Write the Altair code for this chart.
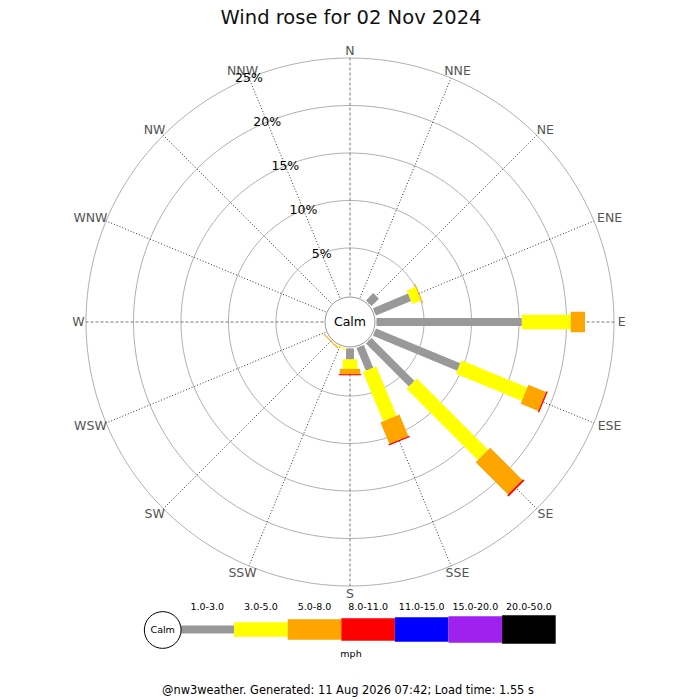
import altair as alt
import pandas as pd

# ---------------- data ----------------
directions = ["N", "NNE", "NE", "ENE", "E", "ESE", "SE", "SSE",
              "S", "SSW", "SW", "WSW", "W", "WNW", "NW", "NNW"]
speed_bins = ["1.0-3.0", "3.0-5.0", "5.0-8.0", "8.0-11.0",
              "11.0-15.0", "15.0-20.0", "20.0-50.0"]
bin_colors = ["#999999", "#ffff00", "#ffa500", "#ff0000",
              "#0000ff", "#a020f0", "#000000"]
bin_widths = [8, 14.5, 20.5, 22.5, 24.5, 26.5, 28.5]

# percentage of time per direction (N..NNW) for each speed bin (mph)
pct_1_3   = [0, 0, 1.1, 4.0, 15.3, 9.6, 6.4, 2.6, 1.15, 0, 0, 0, 0, 0, 0, 0]
pct_3_5   = [0, 0, 0, 1.0, 5.15, 7.5, 10.6, 5.6, 1.0, 0.1, 0, 0, 0, 0, 0, 0]
pct_5_8   = [0, 0, 0, 0.1, 1.5, 2.0, 4.8, 2.45, 0.55, 0, 0.1, 0, 0, 0, 0, 0]
pct_8_11  = [0, 0, 0, 0, 0, 0.15, 0.2, 0.15, 0.12, 0, 0, 0, 0, 0, 0, 0]
pct_11_15 = [0, 0, 0, 0, 0, 0, 0, 0, 0, 0, 0, 0, 0, 0, 0, 0]
pct_15_20 = [0, 0, 0, 0, 0, 0, 0, 0, 0, 0, 0, 0, 0, 0, 0, 0]
pct_20_50 = [0, 0, 0, 0, 0, 0, 0, 0, 0, 0, 0, 0, 0, 0, 0, 0]
series = [pct_1_3, pct_3_5, pct_5_8, pct_8_11, pct_11_15, pct_15_20, pct_20_50]

ring_pcts = [5, 10, 15, 20, 25]
ring_labels = ["5%", "10%", "15%", "20%", "25%"]

title_text = "Wind rose for 02 Nov 2024"
unit_text = "mph"
footer_text = "@nw3weather. Generated: 11 Aug 2026 07:42; Load time: 1.55 s"

# ---------------- geometry (layout only) ----------------
W, H = 684, 692          # drawing area
PXU = 9.5                # pixels per percent
CALM = 26.5 / PXU        # calm circle offset in percent units
CXP, CYP = 350, 322      # rose centre on the page


def dx(px):
    return (px - CXP) / PXU


def dy(py):
    return (CYP - py) / PXU


xs = alt.Scale(domain=[dx(8), dx(8 + W)], zero=False, nice=False)
ys = alt.Scale(domain=[dy(8 + H), dy(8)], zero=False, nice=False)
FONT = "DejaVu Sans"

rows = []
for j, b in enumerate(speed_bins):
    for i, d in enumerate(directions):
        rows.append({"dir": d, "angle": i * 22.5, "bin": b, "bidx": j, "pct": series[j][i]})
df = pd.DataFrame(rows)

dir_df = pd.DataFrame({"dir": directions, "idx": list(range(len(directions)))})
ring_df = pd.DataFrame({"ring": ring_pcts, "label": ring_labels})
leg_df = pd.DataFrame({"bin": speed_bins, "bidx": list(range(len(speed_bins)))})

color_enc = alt.Color("bin:N", scale=alt.Scale(domain=speed_bins, range=bin_colors), legend=None)
width_enc = alt.StrokeWidth("bin:N", scale=alt.Scale(type="ordinal", domain=speed_bins, range=bin_widths),
                            legend=None)

# rings
rings = alt.Chart(ring_df).transform_calculate(
    angs="sequence(0, 362, 2)"
).transform_flatten(["angs"], as_=["ang"]).transform_calculate(
    x=f"({CALM} + datum.ring) * sin(datum.ang * PI / 180)",
    y=f"({CALM} + datum.ring) * cos(datum.ang * PI / 180)",
).mark_line(color="#b0b0b0", strokeWidth=1).encode(
    x=alt.X("x:Q", scale=xs, axis=None),
    y=alt.Y("y:Q", scale=ys, axis=None),
    detail="ring:N",
    order="ang:Q",
)

# radial direction lines
spokes = alt.Chart(dir_df).transform_calculate(
    a="datum.idx * 22.5 * PI / 180",
    card="datum.idx % 4 == 0",
).transform_calculate(
    x0=f"{CALM} * sin(datum.a)", y0=f"{CALM} * cos(datum.a)",
    x1=f"({CALM} + 25) * sin(datum.a)", y1=f"({CALM} + 25) * cos(datum.a)",
).mark_rule(strokeWidth=1).encode(
    x=alt.X("x0:Q", scale=xs, axis=None),
    y=alt.Y("y0:Q", scale=ys, axis=None),
    x2="x1:Q", y2="y1:Q",
    color=alt.condition("datum.card", alt.value("#777777"), alt.value("#333333")),
    strokeDash=alt.condition("datum.card", alt.value([3, 2]), alt.value([1, 2])),
)

# direction labels
dir_labels = alt.Chart(dir_df).transform_calculate(
    a="datum.idx * 22.5 * PI / 180",
    w="length(datum.dir) * 9.3",
).transform_calculate(
    x=f"sin(datum.a) * (267 + datum.w / 2) / {PXU}",
    y=f"cos(datum.a) * (267 + 4.5) / {PXU}",
).mark_text(font=FONT, fontSize=12.5, color="#555555", baseline="middle", align="center").encode(
    x=alt.X("x:Q", scale=xs, axis=None),
    y=alt.Y("y:Q", scale=ys, axis=None),
    text="dir:N",
)

# percentage labels along the NNW spoke
pct_labels = alt.Chart(ring_df).transform_calculate(
    x=f"({CALM} + datum.ring) * sin(337.5 * PI / 180)",
    y=f"({CALM} + datum.ring) * cos(337.5 * PI / 180)",
).mark_text(font=FONT, fontSize=12.5, color="#000000", baseline="middle", align="center").encode(
    x=alt.X("x:Q", scale=xs, axis=None),
    y=alt.Y("y:Q", scale=ys, axis=None),
    text="label:N",
)

# stacked wind bars
bars = alt.Chart(df).transform_window(
    cum="sum(pct)", groupby=["dir"], sort=[alt.SortField("bidx")], frame=[None, 0]
).transform_filter("datum.pct > 0").transform_calculate(
    a="datum.angle * PI / 180",
    r0=f"{CALM} + datum.cum - datum.pct",
    r1=f"{CALM} + datum.cum",
).transform_calculate(
    x0="datum.r0 * sin(datum.a)", y0="datum.r0 * cos(datum.a)",
    x1="datum.r1 * sin(datum.a)", y1="datum.r1 * cos(datum.a)",
).mark_rule(strokeCap="butt").encode(
    x=alt.X("x0:Q", scale=xs, axis=None),
    y=alt.Y("y0:Q", scale=ys, axis=None),
    x2="x1:Q", y2="y1:Q",
    color=color_enc,
    strokeWidth=width_enc,
)

# calm circle in the middle
calm = alt.Chart(pd.DataFrame({"t": ["Calm"]})).mark_point(
    shape="circle", filled=True, fill="white", stroke="#999999", strokeWidth=1, size=2500, opacity=1
).encode(x=alt.datum(0), y=alt.datum(0))
calm_txt = alt.Chart(pd.DataFrame({"t": ["Calm"]})).mark_text(
    font=FONT, fontSize=12.5, color="#000000", baseline="middle"
).encode(x=alt.datum(0), y=alt.datum(0), text="t:N")

# title / unit / footer
title = alt.Chart(pd.DataFrame({"t": [title_text]})).mark_text(
    font=FONT, fontSize=19.5, color="#111111", baseline="middle"
).encode(x=alt.datum(dx(351)), y=alt.datum(dy(18)), text="t:N")
unit = alt.Chart(pd.DataFrame({"t": [unit_text]})).mark_text(
    font=FONT, fontSize=9.5, color="#000000", baseline="middle"
).encode(x=alt.datum(dx(351)), y=alt.datum(dy(654)), text="t:N")
footer = alt.Chart(pd.DataFrame({"t": [footer_text]})).mark_text(
    font=FONT, fontSize=11.4, color="#000000", baseline="middle"
).encode(x=alt.datum(dx(348)), y=alt.datum(dy(691)), text="t:N")

# legend
LX0, LSTEP = dx(180.5), 53.6 / PXU
leg_bars = alt.Chart(leg_df).transform_calculate(
    lx0=f"{LX0} + datum.bidx * {LSTEP}",
    lx1=f"{LX0} + (datum.bidx + 1) * {LSTEP}",
    ly=f"{dy(629.5)}",
).mark_rule(strokeCap="butt").encode(
    x=alt.X("lx0:Q", scale=xs, axis=None),
    y=alt.Y("ly:Q", scale=ys, axis=None),
    x2="lx1:Q",
    color=color_enc,
    strokeWidth=width_enc,
)
leg_labels = alt.Chart(leg_df).transform_calculate(
    tx=f"{LX0} + (datum.bidx + 0.5) * {LSTEP}",
    ty=f"{dy(607)}",
).mark_text(font=FONT, fontSize=9.5, color="#000000", baseline="middle").encode(
    x=alt.X("tx:Q", scale=xs, axis=None),
    y=alt.Y("ty:Q", scale=ys, axis=None),
    text="bin:N",
)
leg_calm = alt.Chart(pd.DataFrame({"t": ["Calm"]})).mark_point(
    shape="circle", filled=True, fill="white", stroke="#000000", strokeWidth=1, size=1350, opacity=1
).encode(x=alt.datum(dx(162.7)), y=alt.datum(dy(630)))
leg_calm_txt = alt.Chart(pd.DataFrame({"t": ["Calm"]})).mark_text(
    font=FONT, fontSize=9.5, color="#000000", baseline="middle"
).encode(x=alt.datum(dx(162.7)), y=alt.datum(dy(630)), text="t:N")

chart = alt.layer(
    rings, spokes, bars, calm, calm_txt, dir_labels, pct_labels,
    title, leg_bars, leg_calm, leg_calm_txt, leg_labels, unit, footer
).properties(
    width=W, height=H, autosize="none", padding=0
).configure_view(stroke=None).configure_axis(disable=True)

chart.save("out.html", embed_options={"renderer": "svg", "actions": False})
